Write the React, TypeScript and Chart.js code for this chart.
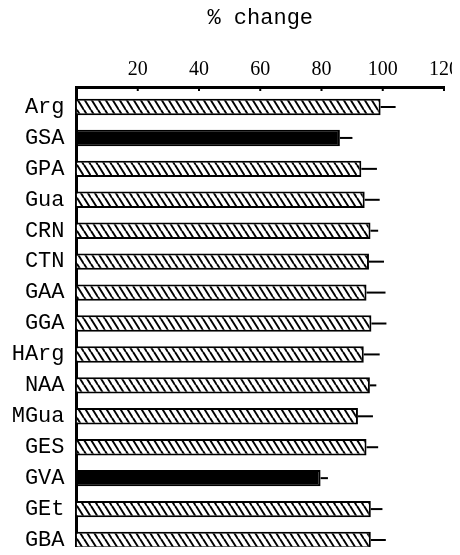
import React, { useEffect, useRef } from 'react';
import { Chart, registerables } from 'chart.js';

Chart.register(...registerables);

const categories = ['Arg', 'GSA', 'GPA', 'Gua', 'CRN', 'CTN', 'GAA', 'GGA', 'HArg', 'NAA', 'MGua', 'GES', 'GVA', 'GEt', 'GBA'];
const changeValues = [99.3, 86.0, 93.0, 94.1, 96.0, 95.5, 94.7, 96.3, 93.8, 95.8, 91.9, 94.7, 79.7, 96.1, 96.1];
const errorValues = [4.9, 4.1, 5.1, 4.9, 2.5, 4.9, 6.2, 4.9, 5.2, 2.1, 4.9, 3.8, 2.4, 3.8, 4.9];
const solidBars = ['GSA', 'GVA'];
const xTickValues = [20, 40, 60, 80, 100, 120];
const axisTitle = '% change';

function makeHatch(): CanvasPattern | string {
  const c = document.createElement('canvas');
  c.width = 7;
  c.height = 11;
  const ctx = c.getContext('2d');
  if (!ctx) return '#fff';
  ctx.fillStyle = '#fff';
  ctx.fillRect(0, 0, 7, 11);
  ctx.strokeStyle = '#000';
  ctx.lineWidth = 2;
  for (const off of [-7, 0, 7]) {
    ctx.beginPath();
    ctx.moveTo(off, 0);
    ctx.lineTo(off + 7, 11);
    ctx.stroke();
  }
  return ctx.createPattern(c, 'repeat') || '#fff';
}

const errorBarPlugin = {
  id: 'errorBars',
  afterDatasetsDraw(chart: any) {
    const meta = chart.getDatasetMeta(0);
    const xs = chart.scales.x;
    const ctx = chart.ctx;
    ctx.save();
    ctx.strokeStyle = '#000';
    ctx.lineWidth = 2;
    meta.data.forEach((bar: any, i: number) => {
      const x0 = xs.getPixelForValue(changeValues[i]);
      const x1 = xs.getPixelForValue(changeValues[i] + errorValues[i]);
      ctx.beginPath();
      ctx.moveTo(x0, bar.y);
      ctx.lineTo(x1, bar.y);
      ctx.stroke();
    });
    ctx.restore();
  },
};

const innerTicksPlugin = {
  id: 'innerTicks',
  afterDraw(chart: any) {
    const xs = chart.scales.x;
    const top = chart.chartArea.top;
    const ctx = chart.ctx;
    ctx.save();
    ctx.strokeStyle = '#000';
    ctx.lineWidth = 2;
    xs.ticks.forEach((t: any) => {
      const px = xs.getPixelForValue(t.value);
      ctx.beginPath();
      ctx.moveTo(px, top);
      ctx.lineTo(px, top + 4);
      ctx.stroke();
    });
    ctx.restore();
  },
};

export default function App() {
  const ref = useRef<HTMLCanvasElement | null>(null);

  useEffect(() => {
    if (!ref.current) return;
    const hatch = makeHatch();
    const chart = new Chart(ref.current, {
      type: 'bar',
      data: {
        datasets: [
          {
            data: changeValues.map((v, i) => ({ x: v, y: i })) as any,
            backgroundColor: categories.map((c) => (solidBars.includes(c) ? '#000' : hatch)) as any,
            borderColor: '#000',
            borderWidth: 2,
            categoryPercentage: 1,
            barPercentage: 0.53,
          },
        ],
      },
      options: {
        indexAxis: 'y',
        animation: false,
        responsive: false,
        layout: { padding: { left: 0, right: 16, top: 8, bottom: 2 } },
        plugins: {
          legend: { display: false },
          tooltip: { enabled: false },
          title: { display: false },
        },
        scales: {
          x: {
            type: 'linear',
            position: 'top',
            min: 0,
            max: 120,
            grid: { display: false, drawTicks: false },
            border: { display: true, color: '#000', width: 3 },
            title: {
              display: true,
              text: axisTitle,
              color: '#000',
              font: { family: 'Liberation Mono', size: 22, weight: 'normal', lineHeight: 0.9 },
              padding: { top: 0, bottom: 0 },
            },
            afterBuildTicks: (s: any) => {
              s.ticks = xTickValues.map((v) => ({ value: v }));
            },
            afterFit: (s: any) => {
              s.height = 79;
              s.paddingLeft = 0;
              s.paddingRight = 0;
            },
            ticks: {
              color: '#000',
              padding: 7,
              font: { family: 'Liberation Serif', size: 20, lineHeight: 1 },
              maxRotation: 0,
              autoSkip: false,
            },
          },
          y: {
            type: 'linear',
            reverse: true,
            offset: false,
            min: -0.647,
            max: 14.42,
            grid: { display: false, drawTicks: false },
            border: { display: true, color: '#000', width: 3 },
            afterBuildTicks: (s: any) => {
              s.ticks = categories.map((_, i) => ({ value: i }));
            },
            afterFit: (s: any) => {
              s.width = 76.5;
              s.paddingTop = 0;
              s.paddingBottom = 0;
            },
            ticks: {
              color: '#000',
              padding: 12,
              autoSkip: false,
              font: { family: 'Liberation Mono', size: 22 },
              callback: (v: any) => categories[Math.round(Number(v))] ?? '',
            },
          },
        },
      },
      plugins: [errorBarPlugin, innerTicksPlugin],
    } as any);
    return () => chart.destroy();
  }, []);

  return (
    <div style={{ margin: -8, width: 460, height: 555, overflow: 'hidden' }}>
      <canvas ref={ref} width={460} height={555} style={{ display: 'block' }} />
    </div>
  );
}
